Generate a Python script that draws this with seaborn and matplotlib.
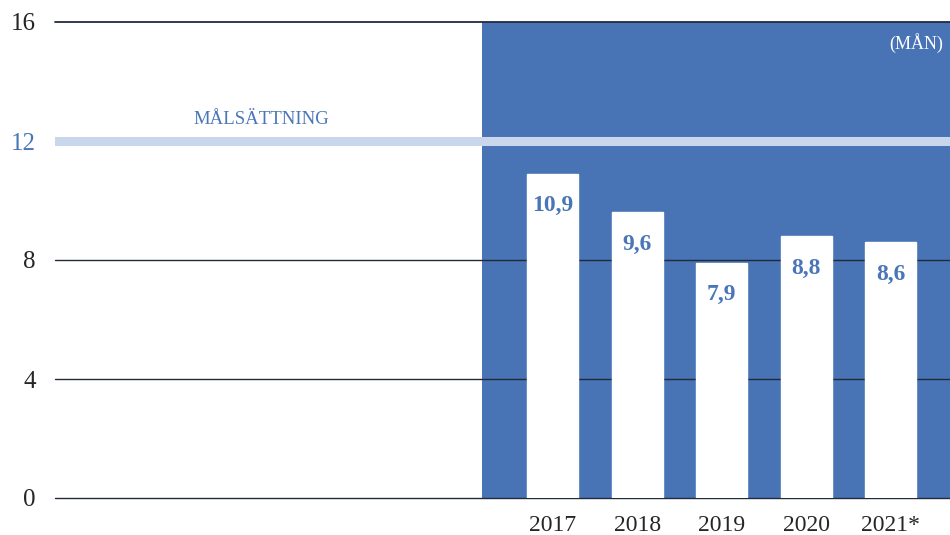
import matplotlib
matplotlib.use("Agg")
import matplotlib.pyplot as plt
import seaborn as sns
import pandas as pd

# data
years = ["2017", "2018", "2019", "2020", "2021*"]
months = [10.9, 9.6, 7.9, 8.8, 8.6]
value_labels = ["10,9", "9,6", "7,9", "8,8", "8,6"]
target = 12
y_ticks = [0, 4, 8, 12, 16]

BLUE = "#4874b6"
TEXT_BLUE = "#4a76b8"
TARGET = "#cad6eb"

sns.set_theme(style="white")
plt.rcParams['font.family'] = ['Liberation Serif', 'DejaVu Serif']

df = pd.DataFrame({"year": years, "months": months})

fig = plt.figure(figsize=(9.5, 5.35), dpi=100)
ax = fig.add_axes([55 / 950, 37 / 535, 1 - 55 / 950, 476 / 535])

# blue panel behind the bars
ax.axvspan(-0.834, 4.70, color=BLUE, zorder=0, lw=0)

sns.barplot(data=df, x="year", y="months", order=years, color="white",
            width=0.6, saturation=1, ax=ax, zorder=3)

ax.set_xlim(-5.89, 4.70)
ax.set_ylim(0, 16)

# horizontal rules
for yv in y_ticks:
    if yv == target:
        continue
    ax.axhline(yv, color="#222a3a", lw=1.3 if yv == 16 else 1.0,
               zorder=1 if yv else 2, clip_on=False)
ax.axhline(target, color=TARGET, lw=6.5, zorder=4)

# value labels inside the bars
for i, (v, lab) in enumerate(zip(months, value_labels)):
    ax.annotate(lab, (i, v), xytext=(0, -23), textcoords="offset points",
                ha="center", va="center", fontsize=17, fontweight="bold",
                color=TEXT_BLUE, zorder=5)

ax.text(-3.45, 12.45, "MÅLSÄTTNING", ha="center", va="bottom",
        fontsize=13.5, color=TEXT_BLUE)
ax.text(4.62, 15.3, "(MÅN)", ha="right", va="center", fontsize=13,
        color="white")

ax.set_yticks(y_ticks)
ax.set_yticklabels([str(t) for t in y_ticks], fontsize=18)
ax.get_yticklabels()[3].set_color(TEXT_BLUE)
ax.tick_params(axis="y", length=0, pad=14)
ax.tick_params(axis="x", length=0, pad=12, labelsize=17)
ax.set_xlabel("")
ax.set_ylabel("")
for s in ax.spines.values():
    s.set_visible(False)

plt.savefig("out.png", dpi=100)
